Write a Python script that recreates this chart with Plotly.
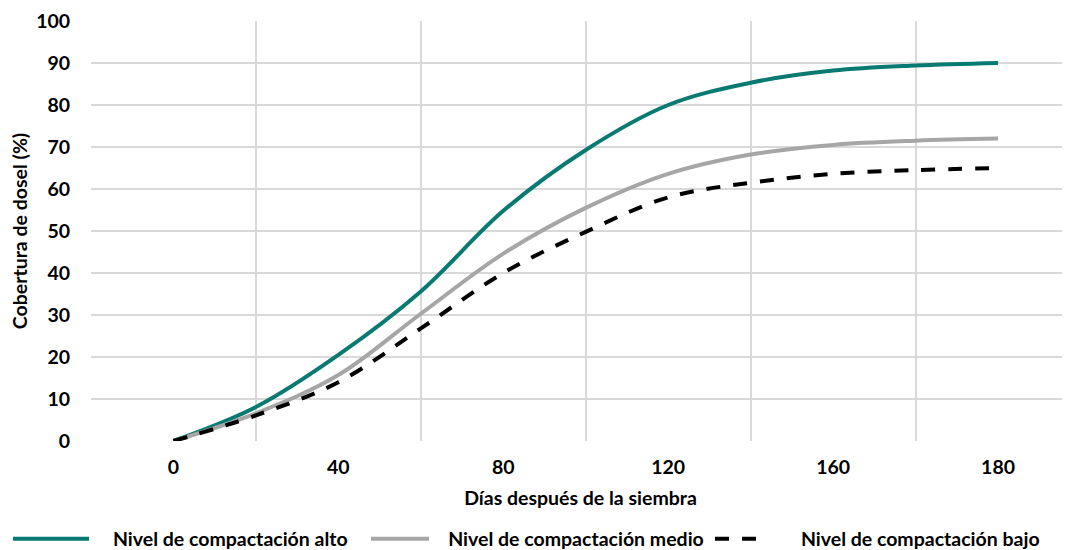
import numpy as np
import plotly.graph_objects as go

# ---- data ----
tick_days = [0, 40, 80, 120, 160, 180]
tick_labels = ["0", "40", "80", "120", "160", "180"]
days = [0, 20, 40, 60, 80, 100, 120, 140, 160, 170, 180]
alto = [0, 8.1, 20.5, 35.6, 54.8, 69.3, 80.0, 85.3, 88.2, 89.4, 90.0]
medio = [0, 6.6, 15.7, 30.3, 44.6, 55.5, 63.6, 68.2, 70.5, 71.5, 72.0]
bajo = [0, 6.1, 14.0, 26.8, 40.0, 49.8, 58.0, 61.5, 63.6, 64.5, 65.0]
names = ["Nivel de compactación alto", "Nivel de compactación medio", "Nivel de compactación bajo"]
y_title = "Cobertura de dosel (%)"
x_title = "Días después de la siembra"

# category-style positions (Excel category axis)
pos = np.interp(days, tick_days, np.arange(len(tick_days)))
boundaries = [i - 0.5 for i in range(len(tick_days) + 1)]

FONT = "Lato"
FS = 19.5
OFF = 8                    # page body margin of the html output
W, H = 1070 - OFF, 550 - OFF
fig = go.Figure()
styles = [
    dict(color="#087a72", width=4),
    dict(color="#a6a6a6", width=4),
    dict(color="#000000", width=4, dash="14px,13px"),
]
legend_ids = ["legend", "legend2", "legend3"]
pads = ["\u00a0" * 4, "\u00a0" * 3, "\u00a0" * 8]
for name, vals, st, lg, pad in zip(names, [alto, medio, bajo], styles, legend_ids, pads):
    fig.add_trace(go.Scatter(
        x=pos, y=vals, mode="lines", name=pad + name, legend=lg,
        line=dict(shape="spline", smoothing=1.0, **st),
        hoverinfo="skip",
    ))

def legend_box(x_page, itemwidth):
    return dict(
        orientation="h", xref="container", yref="container",
        x=(x_page - OFF) / W, xanchor="left", y=(550 - 539) / H, yanchor="middle",
        font=dict(family=FONT, size=FS, color="#000000", weight="bold"),
        itemwidth=itemwidth, bgcolor="rgba(0,0,0,0)", borderwidth=0,
    )

fig.update_layout(
    width=W, height=H,
    margin=dict(l=91 - OFF, r=0, t=21 - OFF, b=H - (21 - OFF) - 420),
    paper_bgcolor="white", plot_bgcolor="white",
    font=dict(family=FONT, size=FS, color="#000000", weight="bold"),
    showlegend=True,
    legend=legend_box(1, 76),
    legend2=legend_box(366, 58),
    legend3=legend_box(710, 43),
    xaxis=dict(
        range=[-0.5, 5.5 - 10.5 / 165], showgrid=False, zeroline=False,
        automargin=False,
        tickmode="array", tickvals=list(range(len(tick_labels))), ticktext=tick_labels,
        ticks="outside", ticklen=9, tickcolor="rgba(0,0,0,0)",
        tickfont=dict(family=FONT, size=FS, weight="bold"),
        minor=dict(tickmode="array", tickvals=boundaries, showgrid=True,
                   gridcolor="#d9d9d9", gridwidth=1.7, ticks=""),
        title=dict(text=x_title, standoff=13,
                   font=dict(family=FONT, size=FS, weight="bold")),
        showline=False,
    ),
    yaxis=dict(
        range=[0, 100], dtick=10, showgrid=True, gridcolor="#d9d9d9", gridwidth=1.7,
        automargin=False,
        zeroline=False, ticks="outside", ticklen=16, tickcolor="rgba(0,0,0,0)",
        tickfont=dict(family=FONT, size=FS, weight="bold"),
        title=dict(text=y_title, standoff=3,
                   font=dict(family=FONT, size=FS, weight="bold")),
    ),
)

fig.write_html("out.html")
